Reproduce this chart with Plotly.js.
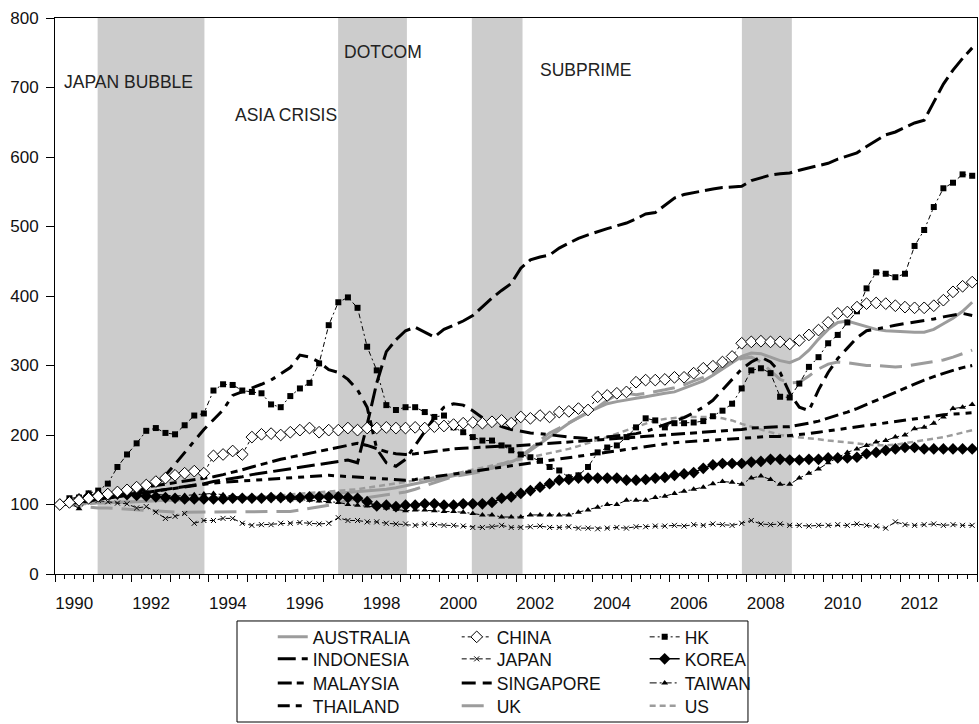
<!DOCTYPE html>
<html><head><meta charset="utf-8">
<script src="https://cdn.plot.ly/plotly-3.0.1.min.js"></script>
<style>html,body{margin:0;padding:0;background:#fff}#chart{width:979px;height:724px}</style>
</head><body><div id="chart"></div>
<script>
// Quarterly observations 1990Q1 - 2013Q4
const firstYear = 1990, lastYear = 2013;
const quarterLabels = [];
for (let y = firstYear; y <= lastYear; y++) for (let q = 1; q <= 4; q++) quarterLabels.push(y + 'Q' + q);

const AUSTRALIA = [100,101,102,102,102,103,103,104,104,105,105,106,106,107,108,108,109,110,110,110,110,110,111,111,111,112,112,113,115,116,117,118,119,120,122,124,127,130,133,136,139,142,145,148,150,152,156,161,168,178,188,197,207,217,225,233,239,245,248,251,253,255,258,260,262,267,272,278,286,295,305,313,318,317,312,307,304,310,322,338,352,362,364,360,355,352,350,349,348,348,348,352,360,368,378,391];
const CHINA = [100,103,106,109,112,115,118,121,125,128,133,138,142,145,148,145,170,172,177,172,197,201,202,200,204,207,210,204,207,207,210,207,210,210,211,210,210,211,210,212,213,215,217,218,217,219,221,217,226,224,228,226,233,234,238,236,255,257,260,262,276,279,279,280,283,283,289,296,299,305,313,332,334,335,334,334,331,336,344,351,362,375,377,384,389,390,389,386,384,383,383,386,394,406,414,420];
const HK = [100,109,110,116,120,130,154,172,188,206,210,203,201,214,228,231,264,273,272,264,262,260,244,240,256,267,275,303,358,391,398,383,327,293,243,236,240,240,233,226,228,211,204,197,192,192,185,178,172,168,163,154,149,139,142,154,175,182,185,197,211,224,221,211,217,217,218,220,227,235,245,267,293,296,289,255,254,274,298,312,332,344,362,378,411,434,432,427,432,472,495,528,555,563,575,573];
const INDONESIA = [100,101,103,105,107,109,111,113,116,118,120,122,124,126,128,130,133,135,137,140,143,145,147,149,152,154,156,158,160,162,164,160,215,275,320,337,350,355,348,341,352,358,364,372,385,397,408,418,440,452,456,459,469,476,483,488,493,497,501,505,511,518,520,530,541,546,549,552,554,556,557,558,566,570,574,576,577,581,584,588,591,597,602,606,615,624,632,636,643,649,653,680,705,725,742,757];
const JAPAN = [100,103,105,107,106,104,102,101,95,97,89,80,83,87,73,77,77,80,80,73,70,71,71,73,73,74,73,72,73,81,77,77,75,75,73,72,72,70,72,71,70,70,69,67,67,68,70,67,67,68,69,67,67,68,66,66,65,66,67,66,68,68,69,69,70,69,71,70,72,71,70,73,77,72,71,72,70,70,69,70,70,71,70,72,70,69,66,75,71,70,71,72,70,71,70,70];
const KOREA = [100,104,108,112,114,115,115,114,113,112,111,110,109,108,108,108,108,108,109,109,109,109,110,110,110,110,111,111,111,111,110,109,104,98,99,97,99,99,101,101,99,99,101,101,101,103,109,111,116,120,125,130,135,136,138,138,138,138,138,135,135,136,138,139,142,144,146,152,157,159,159,159,161,162,165,165,164,164,165,165,167,167,167,168,173,175,178,180,182,182,180,180,180,180,180,180];
const MALAYSIA = [100,103,106,110,113,116,119,121,123,125,127,129,131,133,135,137,140,143,146,150,154,158,162,165,168,171,174,177,180,183,186,188,185,180,176,173,172,173,175,177,178,180,181,182,183,183,184,184,185,186,187,188,189,190,191,192,193,194,195,196,197,198,199,200,201,202,203,204,205,206,207,208,210,211,212,212,212,214,217,220,224,228,233,238,244,250,256,262,268,274,279,284,289,293,297,300];
const SINGAPORE = [100,102,104,106,108,110,112,115,118,122,128,142,158,175,192,208,222,236,257,262,267,273,279,288,297,315,312,305,294,290,280,265,240,180,160,155,165,185,205,225,240,245,243,235,225,218,212,208,205,203,202,200,198,197,196,195,196,197,198,200,202,205,210,215,220,225,232,240,250,265,280,295,305,312,305,290,260,240,235,265,290,310,325,340,350,352,355,358,360,362,365,367,370,372,375,372];
const TAIWAN = [100,103,94,105,110,113,115,117,118,116,115,113,112,113,114,115,116,114,112,110,110,109,108,108,107,107,106,105,104,103,100,99,98,96,95,93,91,92,92,91,90,90,89,87,85,85,82,82,82,85,85,85,85,85,89,92,96,100,100,106,106,106,110,112,116,119,122,125,130,133,132,129,138,141,136,129,129,138,145,151,160,168,175,180,185,190,192,197,200,209,211,217,226,238,240,244];
const THAILAND = [100,102,104,106,108,110,112,114,116,118,120,122,124,126,128,130,131,132,133,134,135,136,137,138,139,140,141,142,142,141,140,139,138,137,136,135,135,136,138,140,142,144,146,148,150,152,154,156,158,160,162,164,166,168,170,172,174,176,178,180,182,184,186,188,189,190,191,192,193,194,195,196,197,198,198,198,199,200,202,204,206,208,210,212,214,216,218,220,222,224,226,228,229,230,231,232];
const UK = [100,100,98,96,95,95,94,93,92,91,90,89,89,89,89,89,90,90,90,90,90,90,89,89,90,92,94,96,99,102,106,108,110,113,115,116,118,122,127,131,136,140,142,145,148,153,158,163,170,180,192,203,210,218,225,232,240,250,258,260,258,260,262,265,268,272,278,283,290,298,306,310,312,305,292,280,275,276,285,295,302,305,304,302,300,300,299,298,299,301,303,305,308,312,317,322];
const US = [100,100,101,101,102,102,103,103,104,105,105,106,106,107,107,108,108,109,109,110,110,111,112,113,114,115,116,117,118,119,121,122,124,126,128,130,132,134,136,138,141,144,147,150,153,156,159,162,165,168,171,174,177,180,184,188,192,197,202,207,212,217,221,223,225,226,226,226,226,224,221,216,212,207,203,200,198,197,196,194,192,191,190,188,186,185,185,186,188,191,193,195,197,200,204,207];

// Crisis shading periods (start, end) and their labels
const crisisStart = [1991.11, 1997.37, 2000.85, 2007.88];
const crisisEnd   = [1993.89, 1999.16, 2002.17, 2009.18];
const eventLabels = ['JAPAN BUBBLE', 'ASIA CRISIS', 'DOTCOM', 'SUBPRIME'];
const eventX = [1990.18, 1994.63, 1997.47, 2002.56];
const eventY = [708, 660, 751, 725];

const yearTicks = [];
for (let y = firstYear; y <= lastYear + 1; y++) yearTicks.push(y);
const labelYears = [];
for (let y = firstYear; y <= lastYear; y += 2) labelYears.push(y);

// x position of each quarter (mid-quarter)
const xq = quarterLabels.map(s => { const y = +s.slice(0,4), q = +s.slice(5); return y + (q - 0.5) / 4; });

const GRAY = '#9c9c9c';
// legend grid: row-major order of the reference legend
const legendOrder = ['AUSTRALIA','CHINA','HK','INDONESIA','JAPAN','KOREA','MALAYSIA','SINGAPORE','TAIWAN','THAILAND','UK','US'];
const series = [
  {name:'AUSTRALIA', y:AUSTRALIA, line:{color:GRAY,width:3,dash:'solid'}},
  {name:'UK', y:UK, line:{color:GRAY,width:3,dash:'22px,9px'}},
  {name:'US', y:US, line:{color:GRAY,width:2.5,dash:'6px,4px'}},
  {name:'INDONESIA', y:INDONESIA, line:{color:'#000',width:3,dash:'18px,6px'}},
  {name:'MALAYSIA', y:MALAYSIA, line:{color:'#000',width:3,dash:'14px,5px,7px,5px'}},
  {name:'SINGAPORE', y:SINGAPORE, line:{color:'#000',width:3,dash:'14px,7px,14px,7px,5px,7px'}},
  {name:'THAILAND', y:THAILAND, line:{color:'#000',width:3,dash:'12px,6px,6px,6px,6px,6px'}},
  {name:'JAPAN', y:JAPAN, line:{color:'#000',width:1,dash:'5px,3px'}, marker:{symbol:'x-thin-open',size:5,line:{width:1,color:'#000'}}},
  {name:'TAIWAN', y:TAIWAN, line:{color:'#000',width:1,dash:'7px,3px,2px,3px'}, marker:{symbol:'triangle-up',size:6,color:'#000'}},
  {name:'KOREA', y:KOREA, line:{color:'#000',width:1.5,dash:'solid'}, marker:{symbol:'diamond',size:9,color:'#000'}},
  {name:'HK', y:HK, line:{color:'#000',width:1,dash:'5px,3px,2px,3px'}, marker:{symbol:'square',size:6,color:'#000'}},
  {name:'CHINA', y:CHINA, line:{color:'#000',width:1,dash:'3px,3px'}, marker:{symbol:'diamond',size:9,color:'#fff',line:{width:1,color:'#000'}}}
];

const legendId = i => i === 0 ? 'legend' : 'legend' + (i + 1);

const traces = series.map(s => {
  const idx = legendOrder.indexOf(s.name);
  const t = {type:'scatter', x:xq, y:s.y, name:s.name, legend:legendId(idx),
    mode: s.marker ? 'lines+markers' : 'lines', line:s.line, xaxis:'x', yaxis:'y'};
  if (s.marker) t.marker = s.marker;
  return t;
});
// invisible helper trace for the label axis
traces.push({type:'scatter', x:[firstYear], y:[0], xaxis:'x2', yaxis:'y', showlegend:false, hoverinfo:'skip', mode:'markers', marker:{opacity:0}});

const shapes = crisisStart.map((s,i) => ({type:'rect', xref:'x', yref:'paper', x0:s, x1:crisisEnd[i], y0:0, y1:1, fillcolor:'#cccccc', line:{width:0}, layer:'below'}));
shapes.push({type:'rect', xref:'paper', yref:'paper', x0:0.1974, x1:0.7516, y0:-0.0845, y1:-0.2662, line:{color:'#000', width:1}, fillcolor:'rgba(0,0,0,0)'});

const FONT = 'Liberation Sans, Arial, sans-serif';
const annotations = eventLabels.map((t,i) => ({text:t, x:eventX[i], y:eventY[i], xref:'x', yref:'y', xanchor:'left', yanchor:'middle', showarrow:false, font:{family:FONT, size:17.5, color:'#222'}}));

const layout = {
  width:979, height:724,
  margin:{l:55, r:2, t:18, b:150, autoexpand:false},
  paper_bgcolor:'#fff', plot_bgcolor:'#fff',
  font:{family:FONT, color:'#111'},
  showlegend:true,
  xaxis:{range:[firstYear, lastYear+1], tickmode:'array', tickvals:yearTicks, ticks:'outside', ticklen:7, tickcolor:'#000', tickwidth:1, showticklabels:false,
         minor:{dtick:0.25, tick0:firstYear, ticks:'outside', ticklen:4, tickcolor:'#000', tickwidth:1, showgrid:false},
         showgrid:false, zeroline:false, showline:true, linecolor:'#000', linewidth:1, mirror:true},
  xaxis2:{overlaying:'x', matches:'x', anchor:'y', side:'bottom', tickmode:'array', tickvals:labelYears.map(y=>y+0.5), ticktext:labelYears.map(String),
          ticks:'outside', ticklen:14, tickcolor:'rgba(0,0,0,0)', showgrid:false, zeroline:false, showline:false, tickfont:{family:FONT, size:17, color:'#111'}},
  yaxis:{range:[0,800], dtick:100, tick0:0, ticks:'outside', ticklen:8, tickcolor:'#000', ticklabelstandoff:4, showgrid:false, zeroline:false, showline:true, linecolor:'#000', linewidth:1, mirror:true, tickfont:{family:FONT, size:17, color:'#111'}},
  shapes:shapes,
  annotations:annotations
};

// one single-entry legend per grid cell
const colX = [0.2786, 0.4665, 0.6585];
const rowY = [0.1202, 0.0898, 0.0566, 0.0249];
legendOrder.forEach((name, i) => {
  layout[legendId(i)] = {orientation:'v', xref:'container', yref:'container', xanchor:'left', yanchor:'middle',
    x:colX[i % 3], y:rowY[Math.floor(i / 3)], bgcolor:'rgba(0,0,0,0)', borderwidth:0,
    font:{family:FONT, size:17.5, color:'#111'}, itemwidth:30};
});

Plotly.newPlot('chart', traces, layout, {displayModeBar:false, staticPlot:true});
</script></body></html>
